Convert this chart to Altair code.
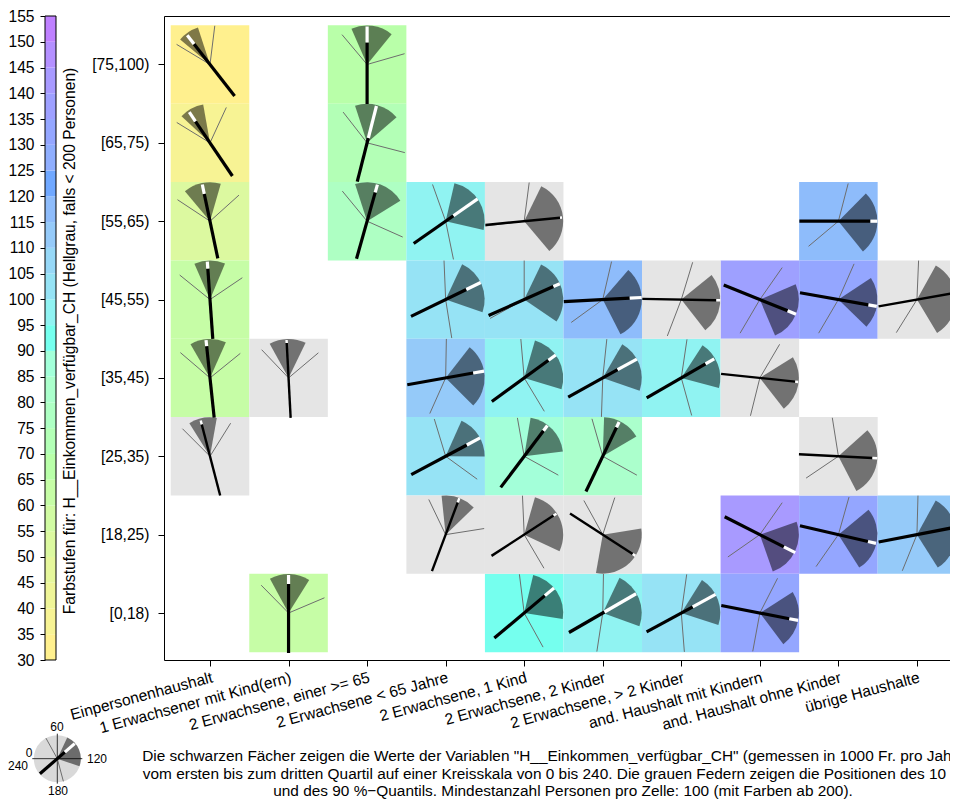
import math
import altair as alt
import pandas as pd

spalten = ["Einpersonenhaushalt", "1 Erwachsener mit Kind(ern)", "2 Erwachsene, einer >= 65",
           "2 Erwachsene < 65 Jahre", "2 Erwachsene, 1 Kind", "2 Erwachsene, 2 Kinder",
           "2 Erwachsene, > 2 Kinder", "and. Haushalt mit Kindern", "and. Haushalt ohne Kinder",
           "übrige Haushalte"]
zeilen = ["[0,18)", "[18,25)", "[25,35)", "[35,45)", "[45,55)", "[55,65)", "[65,75)", "[75,100)"]

stufen_unten = [30, 35, 40, 45, 50, 55, 60, 65, 70, 75, 80, 85, 90, 95, 100, 105, 110, 115, 120, 125, 130, 135, 140, 145, 150]
farben = ["#FFF08E", "#F7F394", "#EFF598", "#E6F79C", "#DCF9A0", "#D1FBA3", "#C6FDA6", "#B9FFA9",
          "#B3FFB6", "#AEFFC3", "#ABFFCC", "#A3FFD9", "#75FFEE", "#90F3F2", "#96E3F5", "#97D8F7",
          "#95CAF9", "#8EBCFB", "#70A8FF", "#8FAEFE", "#94A6FF", "#9EA0FF", "#A89AFF", "#B490FF", "#BF80FF"]

zeile = [7, 7, 6, 6, 5, 5, 5, 5, 5, 4, 4, 4, 4, 4, 4, 4, 4, 3, 3, 3, 3, 3, 3, 3, 2, 2, 2, 2, 2, 1, 1, 1, 1, 1, 1, 0, 0, 0, 0, 0]
spalte = [0, 2, 0, 2, 0, 2, 3, 4, 8, 0, 3, 4, 5, 6, 7, 8, 9, 0, 1, 3, 4, 5, 6, 7, 0, 3, 4, 5, 8, 3, 4, 5, 7, 8, 9, 1, 4, 5, 6, 7]
wert = [32, 67, 37, 72, 52, 77, 97, None, 117, 62, 102, 102, 117, None, 137, 132, None, 62, None, 112, 97, 102, 97, None,
        None, 102, 87, 82, None, None, None, None, 142, 132, 112, 62, 92, 97, 102, 132]
q1 = [26.7, 44.2, 28.7, 48, 33.3, 48, 68.7, 77.3, 89.8, 44.3, 76.7, 77.1, 87.3, 94, 104.5, 97.7, 79.3, 40, 40.7, 85.3, 70.7, 80, 82, 98.7,
      38.7, 76, 66.3, 61.3, 92, 56, 70.7, 114, 107.1, 93.7, 79.2, 41, 68.9, 77, 81.3, 98.3]
q3 = [48, 86, 53.3, 92.7, 70.7, 99, 128.7, 153.3, 154, 75.1, 132.7, 142.7, 162, 154.7, 164.7, 149.3, 159.3, 76, 77.3, 150, 131.3, 132.7, 130, 154.7,
      66.7, 120.3, 115.3, 99.7, 161.7, 90.7, 136.7, 186.7, 167.1, 158.5, 158.5, 81.3, 126, 133.3, 132, 155.3]
p10 = [20.7, 33.3, 21, 34.7, 22.3, 33.7, 46.9, 64.9, 69.7, 26, 58.4, 60, 68.7, 71.3, 83.3, 75.8, 61.6, 27, 30.9, 60.7, 56.7, 64, 65.6, 80.3,
       30, 48.7, 53.3, 49.3, 54, 42.9, 58.3, 72, 83.3, 70.5, 61, 30.3, 55.3, 60.7, 65.3, 78]
p90 = [64.7, 109.3, 76.5, 129.7, 92, 136, 172.3, 235.3, 213.3, 97.3, 174, 220.7, 216, 194, 200.3, 200.3, 201.3, 94, 93.3, 196, 159.3, 181.3, 169.7, 189.3,
       81.3, 144, 139.3, 139.3, 217.3, 114, 159.7, 280.7, 216.7, 203.3, 194.7, 104.7, 160.7, 185.8, 177, 187]
zeiger = [34.7, 60, 37.3, 69.5, 52.1, 70.5, 96.7, 116.3, 120, 57.3, 102.7, 104, 118, 120.7, 134.7, 126.7, 113.3, 56, 58, 113.3, 96, 100.7, 100, 124,
          50.3, 101.3, 84.7, 77, 122, 73.7, 98, 142, 138, 128.7, 112.7, 60, 93.3, 100, 101, 127.3]
schwarz_bis = [26, 22, 26, 5, 28, 30, 9.5, 36, 32, 31, 23, 32, 27, 35, 30, 30.5, 34.5, 32, 35, 28, 30, 17, 28, 35.5,
               33, 24, 32, 32, 34, 34.5, 35, 35.7, 27, 30.4, 34, 29, 27, 2, 13, 30]
spitze = [37, 38, 37, 38, 37.5, 38, 39, 38, 39, 38, 39, 39, 39, 39, 39, 39, 39, 38, 38, 39, 39, 39, 38, 38.5,
          37, 39, 38.5, 38, 39, 39, 38.5, 39, 39.7, 38.6, 39, 38, 39, 38.5, 39, 39]
schwanz = [40, 39.5, 40, 40, 38, 39, 39, 39, 39, 39.5, 38.5, 39, 39, 39, 39, 39, 39, 40, 40, 39, 40, 39.5, 40, 39,
           40.5, 39, 39, 39, 39.5, 39, 39, 39, 39.5, 39.5, 39, 40, 39, 39, 39.5, 39.3]
feder = 39

# Beispielkreis
leg_spalte, leg_zeile = -1.944, -1.859
leg_q1, leg_q3, leg_p10, leg_p90, leg_zeiger = 76.7, 132.7, 40.7, 170, 92.7
leg_schwarz, leg_spitze, leg_schwanz, leg_feder, leg_radius = 10, 23, 23, 23.5, 23.5
leg_kreuz = [0, 60, 120, 180]

DX, DY = 78.55, 78.36
VW, VH = 786, 644
x_scale = alt.Scale(domain=[-46 / DX, (VW - 46) / DX], nice=False, zero=False)
y_scale = alt.Scale(domain=[-47 / DY, 597 / DY], nice=False, zero=False)
t_scale = alt.Scale(domain=[0, 240], range=[-math.pi / 2, 3 * math.pi / 2])
c_scale = alt.Scale(type="threshold", domain=stufen_unten[1:], range=farben)


def px(c, v, r):
    return c + r * math.sin(math.radians((v - 60) * 1.5)) / DX


def py(z, v, r):
    return z + r * math.cos(math.radians((v - 60) * 1.5)) / DY


df = pd.DataFrame(dict(zeile=zeile, spalte=spalte, wert=wert, q1=q1, q3=q3, p10=p10, p90=p90, zeiger=zeiger,
                       schwarz=schwarz_bis, spitze=spitze, schwanz=schwanz))
df["grau"] = df.wert.isna()
df["feder"] = feder
df_leg = pd.DataFrame(dict(zeile=[leg_zeile], spalte=[leg_spalte], q1=[leg_q1], q3=[leg_q3], p10=[leg_p10], p90=[leg_p90],
                           zeiger=[leg_zeiger], schwarz=[leg_schwarz], spitze=[leg_spitze], schwanz=[leg_schwanz],
                           feder=[leg_feder], grau=[False]))


def zusatz(d):
    d = d.copy()
    for name, wv, rv in [("p10", d.p10, d.feder), ("p90", d.p90, d.feder), ("sw", d.zeiger, d.schwarz),
                         ("sp", d.zeiger, d.spitze), ("sz", d.zeiger + 120, d.schwanz)]:
        d[name + "_x"] = [px(c, v, r) for c, v, r in zip(d.spalte, wv, rv)]
        d[name + "_y"] = [py(z, v, r) for z, v, r in zip(d.zeile, wv, rv)]
    d["x0"] = d.spalte - 0.5
    d["x1"] = d.spalte + 0.5
    d["y0"] = d.zeile - 0.5
    d["y1"] = d.zeile + 0.5
    return d


df = zusatz(df)
df_leg = zusatz(df_leg)


def X(f):
    return alt.X(f, type="quantitative", scale=x_scale)


def Y(f):
    return alt.Y(f, type="quantitative", scale=y_scale)


x_achse = alt.Axis(values=list(range(10)), labelExpr="%s[datum.value]" % (spalten,), labelAngle=345, labelAlign="right",
                   labelBaseline="top", labelPadding=4, tickSize=6, grid=False, title=None, domain=False, labelOverlap=False,
                   labelFontSize=15.6, labelBound=False, labelFlush=False, labelLimit=400)
y_achse = alt.Axis(values=list(range(8)), labelExpr="%s[datum.value]" % (zeilen,), tickSize=6, grid=False, title=None,
                   domain=False, labelPadding=9, labelFontSize=15.6, labelOverlap=False)

zellen = alt.Chart(df[~df.grau]).mark_rect().encode(
    x=alt.X("x0:Q", scale=x_scale, axis=x_achse), x2="x1:Q",
    y=alt.Y("y0:Q", scale=y_scale, axis=y_achse), y2="y1:Q",
    color=alt.Color("wert:Q", scale=c_scale, legend=None))
zellen_grau = alt.Chart(df[df.grau]).mark_rect(color="#E5E5E5").encode(x=X("x0"), x2="x1:Q", y=Y("y0"), y2="y1:Q")


def glyphen(d, radius):
    b = alt.Chart(d)
    return [
        b.mark_arc(radius=radius, innerRadius=0, color="black", opacity=0.5).encode(
            x=X("spalte"), y=Y("zeile"),
            theta=alt.Theta("q1:Q", scale=t_scale, stack=None), theta2="q3:Q"),
        b.mark_rule(color="#6E6E6E", strokeWidth=1).encode(x=X("spalte"), y=Y("zeile"), x2="p10_x:Q", y2="p10_y:Q"),
        b.mark_rule(color="#6E6E6E", strokeWidth=1).encode(x=X("spalte"), y=Y("zeile"), x2="p90_x:Q", y2="p90_y:Q"),
        b.mark_rule(color="black").encode(
            x=X("sz_x"), y=Y("sz_y"), x2="sw_x:Q", y2="sw_y:Q",
            strokeWidth=alt.condition("datum.grau", alt.value(2.4), alt.value(3.2))),
        b.mark_rule(color="white").encode(
            x=X("sw_x"), y=Y("sw_y"), x2="sp_x:Q", y2="sp_y:Q",
            strokeWidth=alt.condition("datum.grau", alt.value(2.4), alt.value(3.2))),
    ]


scheibe = alt.Chart(pd.DataFrame(dict(s=[leg_spalte], z=[leg_zeile], a=[0], b=[240]))).mark_arc(
    radius=leg_radius, innerRadius=0, color="#D9D9D9").encode(
    x=X("s"), y=Y("z"), theta=alt.Theta("a:Q", scale=t_scale, stack=None), theta2="b:Q")
kreuz_df = pd.DataFrame(dict(v=leg_kreuz))
kreuz_df["s"] = leg_spalte
kreuz_df["z"] = leg_zeile
kreuz_df["ex"] = [px(leg_spalte, v, 25) for v in leg_kreuz]
kreuz_df["ey"] = [py(leg_zeile, v, 25) for v in leg_kreuz]
kreuz = alt.Chart(kreuz_df).mark_rule(color="#333333", strokeWidth=1).encode(x=X("s"), y=Y("z"), x2="ex:Q", y2="ey:Q")


def text(t, x, y, size=12, align="center", angle=0, baseline="middle"):
    return alt.Chart(pd.DataFrame(dict(t=[t]))).mark_text(
        fontSize=size, align=align, baseline=baseline, angle=angle, color="black").encode(
        text="t:N", x=alt.value(x), y=alt.value(y))


zeilen_text = [
    'Die schwarzen Fächer zeigen die Werte der Variablen "H__Einkommen_verfügbar_CH" (gemessen in 1000 Fr. pro Jahr)',
    "vom ersten bis zum dritten Quartil auf einer Kreisskala von 0 bis 240. Die grauen Federn zeigen die Positionen des 10 %−",
    "und des 90 %−Quantils. Mindestanzahl Personen pro Zelle: 100 (mit Farben ab 200).",
]
texte = [text(t, x, y, size=15.4) for t, x, y in zip(zeilen_text, [388, 394, 399], [739.5, 757.5, 775])]
texte += [
    text("60", -107, 711), text("120", -67, 743), text("180", -106, 775), text("0", -135, 736.6), text("240", -146, 750),
    text("Farbstufen für: H__Einkommen_verfügbar_CH (Hellgrau, falls < 200 Personen)", -94, 325, size=15.6, angle=270),
]

haupt = alt.layer(zellen, zellen_grau, scheibe, kreuz, *glyphen(df, 39), *glyphen(df_leg, leg_radius), *texte)

balken_df = pd.DataFrame(dict(u=stufen_unten))
balken_df["o"] = balken_df.u + 5
balken_df["wert"] = balken_df.u + 2.5
v_scale = alt.Scale(domain=[30, 155], nice=False, zero=False)
v_achse = alt.Axis(values=stufen_unten + [155], tickCount=26, orient="left", offset=119, tickSize=5, labelPadding=6,
                   labelFontSize=15.6, grid=False, title=None, domain=False, labelOverlap=False,
                   labelBound=False, labelFlush=False)
balken = alt.Chart(balken_df).mark_rect().encode(
    x=alt.value(-119), x2=alt.value(-108),
    y=alt.Y("u:Q", scale=v_scale, axis=v_achse),
    y2="o:Q", color=alt.Color("wert:Q", scale=c_scale, legend=None))
rahmen = alt.Chart(pd.DataFrame(dict(u=[30], o=[155]))).mark_rect(fillOpacity=0, stroke="black", strokeWidth=1).encode(
    x=alt.value(-119), x2=alt.value(-108),
    y=alt.Y("u:Q", scale=v_scale, axis=v_achse), y2="o:Q")
farbleiste = alt.layer(balken, rahmen)

chart = alt.layer(haupt, farbleiste).resolve_scale(y="independent", color="shared").properties(
    width=VW, height=VH,
    autosize=alt.AutoSizeParams(type="none"),
    padding={"left": 156, "top": 8, "right": 0, "bottom": 139},
).configure(font="Liberation Sans").configure_view(stroke="black", strokeWidth=1).configure_axis(
    tickColor="black", labelColor="black", tickWidth=1)

chart.save("out.html", embed_options={"renderer": "svg", "actions": False})
